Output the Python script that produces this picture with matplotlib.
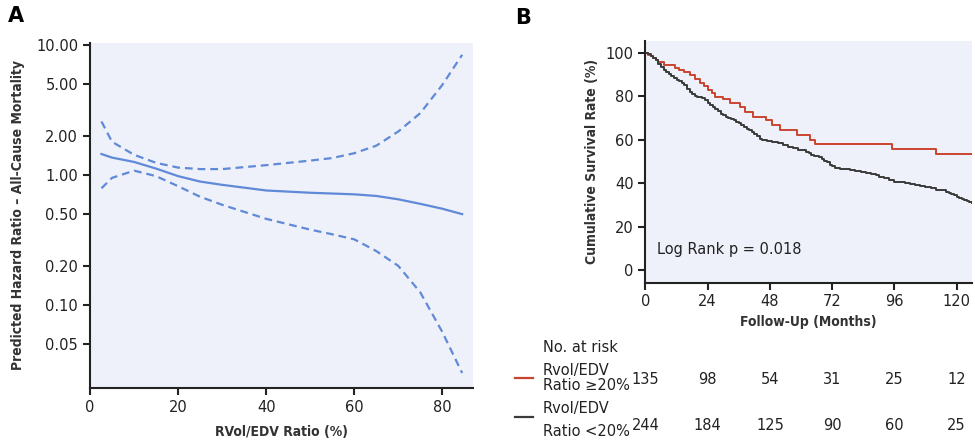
import numpy as np
import matplotlib
matplotlib.use("Agg")
import matplotlib.pyplot as plt
from matplotlib.transforms import blended_transform_factory

# Panel A: predicted hazard ratio vs RVol/EDV ratio (spline fit with 95% CI)
ratio_pct = [2.6, 5, 10, 15, 20, 25, 30, 40, 50, 55, 60, 65, 70, 75, 80, 84.5]
hr_fit = [1.45, 1.36, 1.26, 1.12, 0.98, 0.89, 0.84, 0.76, 0.73, 0.72, 0.71, 0.69, 0.65, 0.60, 0.55, 0.50]
hr_upper = [2.58, 1.80, 1.43, 1.24, 1.14, 1.11, 1.11, 1.19, 1.29, 1.35, 1.47, 1.68, 2.16, 2.99, 4.93, 8.4]
hr_lower = [0.79, 0.95, 1.08, 0.98, 0.82, 0.68, 0.59, 0.46, 0.38, 0.35, 0.32, 0.26, 0.20, 0.125, 0.062, 0.030]
hr_ticks = [0.05, 0.10, 0.20, 0.50, 1.00, 2.00, 5.00, 10.00]

# Panel B: Kaplan-Meier survival (%)
t_high = [0, 1, 2, 3, 4, 5, 7, 11.5, 13, 15, 17, 19, 21, 22.5, 24, 25.5, 27, 30,
          32.5, 36.5, 38.5, 41.5, 46.5, 49, 52, 58.5, 63.5, 65.5, 95, 112, 126]
s_high = [100, 99, 98.5, 97.5, 96.5, 95.5, 94.3, 93, 92, 91, 89.7, 88, 86, 84.5, 82.8, 81.5, 79.8, 78.5,
          76.7, 75.2, 72.8, 70.5, 69, 66.7, 64.4, 62.1, 59.8, 58, 55.7, 53.4, 53.4]
t_low = [0, 1, 2, 3, 4, 5, 6, 7, 8, 9, 10, 11, 12, 13, 14, 15, 16, 17, 18, 19, 20, 22, 23, 24,
         25, 26, 27, 28, 29, 30, 31, 32, 33, 34, 35, 36, 37, 38, 39, 40, 41, 42, 43, 44, 45, 47,
         49, 51, 53, 55, 57, 59, 61, 62, 63, 64, 65, 67, 68, 69, 70, 71, 72, 73, 75, 77, 79, 81,
         83, 85, 87, 89, 90, 92, 94, 96, 98, 100, 102, 104, 106, 108, 110, 112, 114, 116, 117,
         118, 119, 120, 121, 122, 123, 124, 125, 126]
s_low = [100, 99.5, 98.5, 97.5, 96.5, 95, 93.5, 92, 91, 90, 89.3, 88.5, 87.5, 86.8, 86, 85, 83.5,
         82, 81, 80, 79.5, 79, 78, 77, 76, 75, 74, 73, 72, 71.3, 70.5, 70, 69.5, 69, 68.3, 67.5,
         66.5, 65.8, 65, 64.3, 63.5, 62.5, 61.5, 60.3, 59.7, 59.3, 58.8, 58.3, 57.6, 56.8, 56, 55.3,
         55, 54.5, 54, 53, 52.3, 51.8, 51, 50.3, 49.5, 48.5, 47.8, 47, 46.6, 46.3, 45.8, 45.4, 45,
         44.6, 44.2, 43.7, 43, 42.2, 41.2, 40.6, 40.3, 40, 39.6, 39.1, 38.8, 38.3, 37.8, 37, 36.6,
         36, 35.3, 34.8, 34.3, 33.5, 33, 32.6, 32.2, 31.8, 31.3, 31]
risk_months = [0, 24, 48, 72, 96, 120]
risk_high = [135, 98, 54, 31, 25, 12]
risk_low = [244, 184, 125, 90, 60, 25]

BG = "#eef1f9"
BLUE = "#6089d8"
RED = "#c9442f"
DARK = "#3b3b3b"
LBL = dict(fontsize=10, fontweight='bold', fontstretch='condensed',
           family=['DejaVu Sans'], color='#333333')

plt.rcParams['font.family'] = ['DejaVu Sans']

fig = plt.figure(figsize=(9.75, 4.45), dpi=100)
axA = fig.add_axes([0.0923, 0.128, 0.393, 0.776])
axB = fig.add_axes([0.662, 0.365, 0.335, 0.5435])

# ---- Panel A ----
axA.set_facecolor(BG)
axA.plot(ratio_pct, hr_fit, color=BLUE, lw=1.6)
axA.plot(ratio_pct, hr_upper, color=BLUE, lw=1.6, ls=(0, (3.5, 2.2)))
axA.plot(ratio_pct, hr_lower, color=BLUE, lw=1.6, ls=(0, (3.5, 2.2)))
axA.set_yscale('log')
axA.set_ylim(0.023, 10.4)
axA.set_xlim(0, 87)
axA.set_yticks(hr_ticks)
axA.set_yticklabels([f"{v:.2f}" for v in hr_ticks])
axA.minorticks_off()
axA.set_xticks([0, 20, 40, 60, 80])
for s in ['top', 'right']:
    axA.spines[s].set_visible(False)
for s in ['left', 'bottom']:
    axA.spines[s].set_linewidth(1.5)
    axA.spines[s].set_color('#222222')
axA.tick_params(labelsize=10.5, width=1.5, length=5, colors='#222222')
axA.set_xlabel('RVol/EDV Ratio (%)', labelpad=7, **LBL)
axA.set_ylabel('Predicted Hazard Ratio \u2013 All-Cause Mortality', labelpad=8, **LBL)
fig.text(0.008, 0.965, 'A', fontsize=15, fontweight='bold', va='center')

# ---- Panel B ----
axB.set_facecolor(BG)
axB.step(t_high, s_high, where='post', color=RED, lw=1.4)
axB.step(t_low, s_low, where='post', color=DARK, lw=1.4)
axB.set_xlim(0, 126)
axB.set_ylim(-5.8, 105.5)
axB.set_xticks(risk_months)
axB.set_yticks([0, 20, 40, 60, 80, 100])
for s in ['top', 'right']:
    axB.spines[s].set_visible(False)
for s in ['left', 'bottom']:
    axB.spines[s].set_linewidth(1.5)
    axB.spines[s].set_color('#222222')
axB.tick_params(labelsize=10.5, width=1.5, length=5, colors='#222222')
axB.set_xlabel('Follow-Up (Months)', labelpad=4, **LBL)
axB.set_ylabel('Cumulative Survival Rate (%)', labelpad=5, **LBL)
axB.text(4.3, 9.2, 'Log Rank p = 0.018', fontsize=10.5, va='center', color='#222222')
fig.text(0.528, 0.96, 'B', fontsize=15, fontweight='bold', va='center')

# number-at-risk table
tr = blended_transform_factory(axB.transData, fig.transFigure)
fig.text(543 / 975, 1 - 347 / 445, 'No. at risk', fontsize=10.5, va='center', color='#222222')
rows = [(risk_high, RED, 379, 370, 385, 378, 'Rvol/EDV', 'Ratio \u226520%'),
        (risk_low, DARK, 425, 408, 432, 417, 'Rvol/EDV', 'Ratio <20%')]
for counts, col, ynum, yl1, yl2, ydash, l1, l2 in rows:
    fig.add_artist(plt.Line2D([515 / 975, 533 / 975], [1 - ydash / 445] * 2,
                              color=col, lw=1.6, transform=fig.transFigure))
    fig.text(543 / 975, 1 - yl1 / 445, l1, fontsize=10.5, va='center', color='#222222')
    fig.text(543 / 975, 1 - yl2 / 445, l2, fontsize=10.5, va='center', color='#222222')
    for m, n in zip(risk_months, counts):
        fig.text(m, 1 - ynum / 445, str(n), transform=tr, fontsize=10.5,
                 ha='center', va='center', color='#222222')

fig.savefig('out.png', dpi=100)
